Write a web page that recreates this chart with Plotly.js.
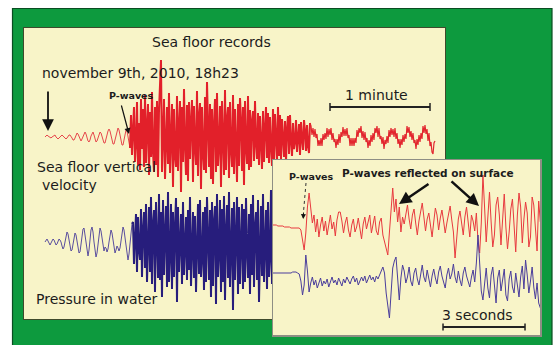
<!DOCTYPE html>
<html><head><meta charset="utf-8">
<script src="https://cdn.plot.ly/plotly-3.0.1.min.js"></script>
<style>html,body{margin:0;padding:0;background:#fff}#chart{width:560px;height:345px}</style>
</head><body><div id="chart"></div>
<script>
// ---------- data (amplitudes, arbitrary units) ----------
const mainDt = 0.6;    // seconds per sample, main records
const insetDt = 0.06;  // seconds per sample, zoomed records
const redOnset = 85, redCoda = 265, blueOnset = 87;   // sample indices: P arrival, end of strong shaking

const seaFloorVelocity = [
0,1,2,1,0,-1,-1,0,1,2,2,0,-1,-2,-1,0,1,2,1,0,-1,-2,-1,1,2,2,
1,-1,-3,-3,-1,2,4,3,0,-3,-4,-2,1,4,5,3,-1,-4,-5,-3,1,4,5,2,-2,-5,-4,-1,3,5,
4,1,-3,-6,-6,-3,2,6,8,6,1,-4,-7,-7,-3,2,7,9,7,2,-4,-8,-8,-4,2,7,6,1,-6,-11,
22,-18,8,30,-25,-6,35,-28,14,-33,38,-12,28,-30,42,-26,10,33,-38,25,-20,45,-15,-35,30,-28,36,-40,27,50,
77,-35,20,38,-42,-10,30,-27,44,-36,5,33,-50,28,-18,-30,41,-34,12,36,-55,30,-25,48,-8,-38,32,-44,35,-22,
15,37,-45,31,-10,-28,46,-39,22,34,-52,30,-15,-33,40,-36,55,-6,-30,33,-42,28,-47,12,38,-35,44,-29,-8,31,
-50,36,-20,-38,47,-33,18,30,-41,35,-12,-30,42,-37,28,-5,-45,33,-29,39,16,-34,30,-48,36,-10,-27,41,-33,27,
-30,16,26,-24,36,-6,-22,24,-28,21,-12,-32,26,-25,8,30,-21,24,-26,20,-10,-29,28,-22,23,-5,-25,30,-19,22,
-22,18,-6,-20,16,-25,8,21,-17,22,-4,-19,14,-12,-5,17,-15,4,13,-18,15,-2,-13,17,6,-14,12,-9,-16,14,
11,2,9,0,8,-1,3,-9,-3,-9,-1,-9,3,-3,4,-2,9,0,8,2,9,-3,4,-5,-2,-11,-2,-8,3,-6,
5,0,10,1,8,1,9,-1,2,-9,-1,-9,-1,-9,-1,-6,7,0,9,4,11,-1,6,-3,5,-5,-1,-11,-3,-9,
2,-5,4,-3,9,4,11,0,9,-2,1,-7,0,-12,-3,-7,1,-6,7,0,9,2,8,0,9,-2,4,-7,-2,-11,
-2,-8,2,-5,3,-2,11,4,10,0,6,-3,4,-6,-3,-12,-2,-8,2,-5,4,-2,11,4,12,3,8,-4,4,-9,-5,-15,-17,-6,-4
];

const waterPressure = [
0,2,3,1,-2,-3,-1,2,3,2,-1,-3,-2,1,3,2,
0,-4,-7,-5,0,6,10,8,2,-5,-9,-8,-2,5,9,7,
1,-6,-11,-10,-3,6,13,14,7,-3,-12,-14,-8,3,12,15,
10,0,-10,-15,-11,-1,9,14,11,3,-6,-9,-5,-6,-10,-7,
0,8,12,9,1,-7,-11,-8,-4,-6,-9,-6,2,10,15,12,
4,-6,-14,-18,-12,-2,8,18,
20,-22,5,28,-30,25,-8,-18,33,-35,12,30,-26,38,-40,-5,35,-30,45,-42,18,32,-50,40,-10,-36,48,-38,30,-55,
42,-33,8,36,-45,50,-40,-12,38,-47,30,-35,15,44,-60,35,-30,-6,28,-42,40,-33,12,25,-38,32,-28,45,-44,-10,
30,-36,26,-50,5,38,-32,42,-35,-15,30,-48,35,-40,45,-8,-38,32,-55,40,-44,20,36,-62,48,-35,-10,42,-50,33,
-40,46,-58,10,37,-36,50,-45,-5,34,-68,40,-38,18,45,-52,35,-42,-12,38,-47,33,-40,44,-8,-36,28,-52,38,-33,
47,-45,15,30,-38,42,-60,-10,36,-34,48,-40,5,32,-47,40,-35,-15,52,-42,30,-55,12,38,-36,44,-48,35,-42,40
];

const insetVelocity = [
2,2,2,1,1,1,1,0,0,0,0,-1,-1,-1,-1,-1,-1,
-3,-12,-23,-6,20,34,
18,4,12,-5,8,-10,2,10,-4,6,-8,3,12,-2,5,-9,7,15,
15,6,-6,4,10,-3,-10,2,8,-5,0,9,-4,-12,3,10,-2,6,12,-6,3,11,-4,-8,5,9,
-8,-15,-22,-28,-5,20,39,15,28,5,20,-5,10,
3,15,22,8,-2,12,18,4,-8,6,16,24,10,-4,8,14,2,-10,5,19,12,-3,9,17,6,-6,4,13,21,7,-5,
-31,-12,8,16,2,-8,10,20,5,-10,12,6,-4,14,-14,-26,4,
52,
20,-15,10,35,5,-20,-8,22,30,12,-18,15,33,0,-22,-5,18,28,-5,-25,12,34,20,-16,8,25,14,-20,-10,30,22,-6,-24,26,5
];

const insetPressure = [
0,0,0,0,0,0,0,0,0,0,0,0,1,1,1,0,-1,
-8,-22,-12,18,2,-19,-10,
-4,-12,-7,-15,-9,-5,-13,-8,-11,-6,-14,-9,-4,-10,-7,-12,-5,-9,-13,-6,-10,-4,-8,-11,-6,-3,-9,-5,-12,-7,-4,-8,-3,-10,-6,-2,-7,-4,-9,-3,-6,-1,2,
6,0,-20,-35,-45,-20,5,12,16,-5,-27,-5,8,
2,-10,-4,6,-8,-13,0,5,-6,-12,-2,8,-4,-9,3,-7,-14,-3,4,-5,-11,1,7,-3,-9,-15,-2,5,-6,-1,9,-4,-10,2,-7,-13,0,6,-3,-8,-14,-4,3,-9,10,
38,12,-18,-27,
-8,5,-15,-25,-2,6,-12,-30,-5,3,-18,-8,4,-22,-28,-6,2,-14,-20,0,-10,-24,-4,7,-16,13,-2,-20,-8,6,-14,-26,-10,-30,-35
];

const mainScaleBar = [171, 231];     // seconds: 1 minute
const insetScaleBar = [6.22, 9.22];  // seconds: 3 seconds

// ---------- layout helpers ----------
const W = 560, H = 345;
const px = x => x / W;
const py = y => 1 - y / H;
const redBase = 182, blueBase = 77, insetRedBase = 108, insetBlueBase = 62;

function seg(arr, base, dt, from, to, color, width, xa, ya) {
  const idx = arr.map((v,i)=>i).slice(from, to);
  return {x: idx.map(i=>i*dt), y: idx.map(i=>arr[i]+base), type:'scatter', mode:'lines',
          line:{color:color, width:width}, xaxis:xa, yaxis:ya, hoverinfo:'skip'};
}

const traces = [
  seg(waterPressure, blueBase, mainDt, 0, blueOnset+1, '#5a4e9e', 1, 'x', 'y'),
  seg(waterPressure, blueBase, mainDt, blueOnset, waterPressure.length, '#271d7c', 2, 'x', 'y'),
  seg(seaFloorVelocity, redBase, mainDt, 0, redOnset+1, '#e6474c', 1, 'x', 'y'),
  seg(seaFloorVelocity, redBase, mainDt, redOnset, redCoda+1, '#e2202a', 2, 'x', 'y'),
  seg(seaFloorVelocity, redBase, mainDt, redCoda, seaFloorVelocity.length, '#e2262e', 1.2, 'x', 'y'),
  seg(insetVelocity, insetRedBase, insetDt, 0, insetVelocity.length, '#e8393e', 1, 'x2', 'y2'),
  seg(insetPressure, insetBlueBase, insetDt, 0, insetPressure.length, '#4a3d9c', 1, 'x2', 'y2')
];

const hid = {showgrid:false, zeroline:false, showticklabels:false, ticks:'', fixedrange:true};
const F = 'DejaVu Sans';
const txt = (t, x, y, size, bold) => ({
  text: bold ? '<b>'+t+'</b>' : t, xref:'paper', yref:'paper', x:px(x), y:py(y),
  xanchor:'left', yanchor:'middle', showarrow:false,
  font:{family:F, size:size, color:'#1c1c1c'}
});
const arr = (tx, ty, ax, ay, w, s) => ({
  text:'', xref:'paper', yref:'paper', x:px(tx), y:py(ty), ax:ax, ay:ay,
  showarrow:true, arrowhead:2, arrowsize:s, arrowwidth:w, arrowcolor:'#111', standoff:0, startstandoff:0
});

const layout = {
  width:W, height:H, margin:{l:0,r:0,t:0,b:0},
  paper_bgcolor:'#0d9a3e', plot_bgcolor:'#f8f4c8', showlegend:false,
  xaxis: Object.assign({domain:[px(24),px(445)], range:[-12.6,240], showline:true, mirror:true, linecolor:'#3f4a2c', linewidth:1}, hid),
  yaxis: Object.assign({domain:[py(319),py(28)], range:[0,291], showline:true, mirror:true, linecolor:'#3f4a2c', linewidth:1}, hid),
  xaxis2: Object.assign({domain:[px(273),px(540)], range:[0,9.768], anchor:'y2', showline:true, mirror:true, linecolor:'#8e8e84', linewidth:1.5}, hid),
  yaxis2: Object.assign({domain:[py(335),py(160)], range:[0,175], anchor:'x2', showline:true, mirror:true, linecolor:'#8e8e84', linewidth:1.5}, hid),
  shapes: [
    {type:'rect', xref:'paper', yref:'paper', x0:0, x1:px(12), y0:0, y1:1, fillcolor:'#fff', line:{width:0}, layer:'below'},
    {type:'rect', xref:'paper', yref:'paper', x0:0, x1:1, y0:py(8), y1:1, fillcolor:'#fff', line:{width:0}, layer:'below'},
    {type:'rect', xref:'paper', yref:'paper', x0:px(552), x1:1, y0:0, y1:1, fillcolor:'#fff', line:{width:0}, layer:'below'},
    {type:'rect', xref:'paper', yref:'paper', x0:px(12.5), x1:px(552), y0:-0.01, y1:py(8.5), line:{color:'#0b4d22', width:1.2}, layer:'below'},
    // scale bars
    {type:'line', xref:'x', yref:'paper', x0:mainScaleBar[0], x1:mainScaleBar[1], y0:py(107), y1:py(107), line:{color:'#222', width:2}},
    {type:'line', xref:'x', yref:'paper', x0:mainScaleBar[0], x1:mainScaleBar[0], y0:py(103), y1:py(111), line:{color:'#222', width:1.5}},
    {type:'line', xref:'x', yref:'paper', x0:mainScaleBar[1], x1:mainScaleBar[1], y0:py(103), y1:py(111), line:{color:'#222', width:1.5}},
    {type:'line', xref:'x2', yref:'paper', x0:insetScaleBar[0], x1:insetScaleBar[1], y0:py(327), y1:py(327), line:{color:'#222', width:2}},
    {type:'line', xref:'x2', yref:'paper', x0:insetScaleBar[0], x1:insetScaleBar[0], y0:py(323.5), y1:py(330.5), line:{color:'#222', width:1.5}},
    {type:'line', xref:'x2', yref:'paper', x0:insetScaleBar[1], x1:insetScaleBar[1], y0:py(323.5), y1:py(330.5), line:{color:'#222', width:1.5}},
    // dashed P-wave pointer in inset
    {type:'line', xref:'paper', yref:'paper', x0:px(306), y0:py(183), x1:px(303.5), y1:py(212), line:{color:'#333', width:1, dash:'dot'}}
  ],
  annotations: [
    txt('Sea floor records', 150, 42, 14),
    txt('november 9th, 2010, 18h23', 40, 73, 14),
    txt('1 minute', 343, 95, 14),
    txt('Sea floor vertical', 35, 167, 14),
    txt('velocity', 40, 185, 14),
    txt('Pressure in water', 34, 299, 14),
    txt('P-waves', 107, 96, 9.5, true),
    txt('P-waves', 287, 176, 9.5, true),
    txt('P-waves reflected on surface', 340, 173, 10.5, true),
    txt('3 seconds', 440, 315, 14),
    arr(48, 131, 0, -41, 1.8, 1.3),
    arr(129, 134, -8, -30, 1.2, 1),
    arr(303.2, 219, 0.4, -8, 1, 1),
    arr(399, 204, 31, -21, 2.5, 1),
    arr(479, 206, -29, -26, 2.5, 1)
  ]
};

Plotly.newPlot('chart', traces, layout, {staticPlot:true, displayModeBar:false});
</script></body></html>
